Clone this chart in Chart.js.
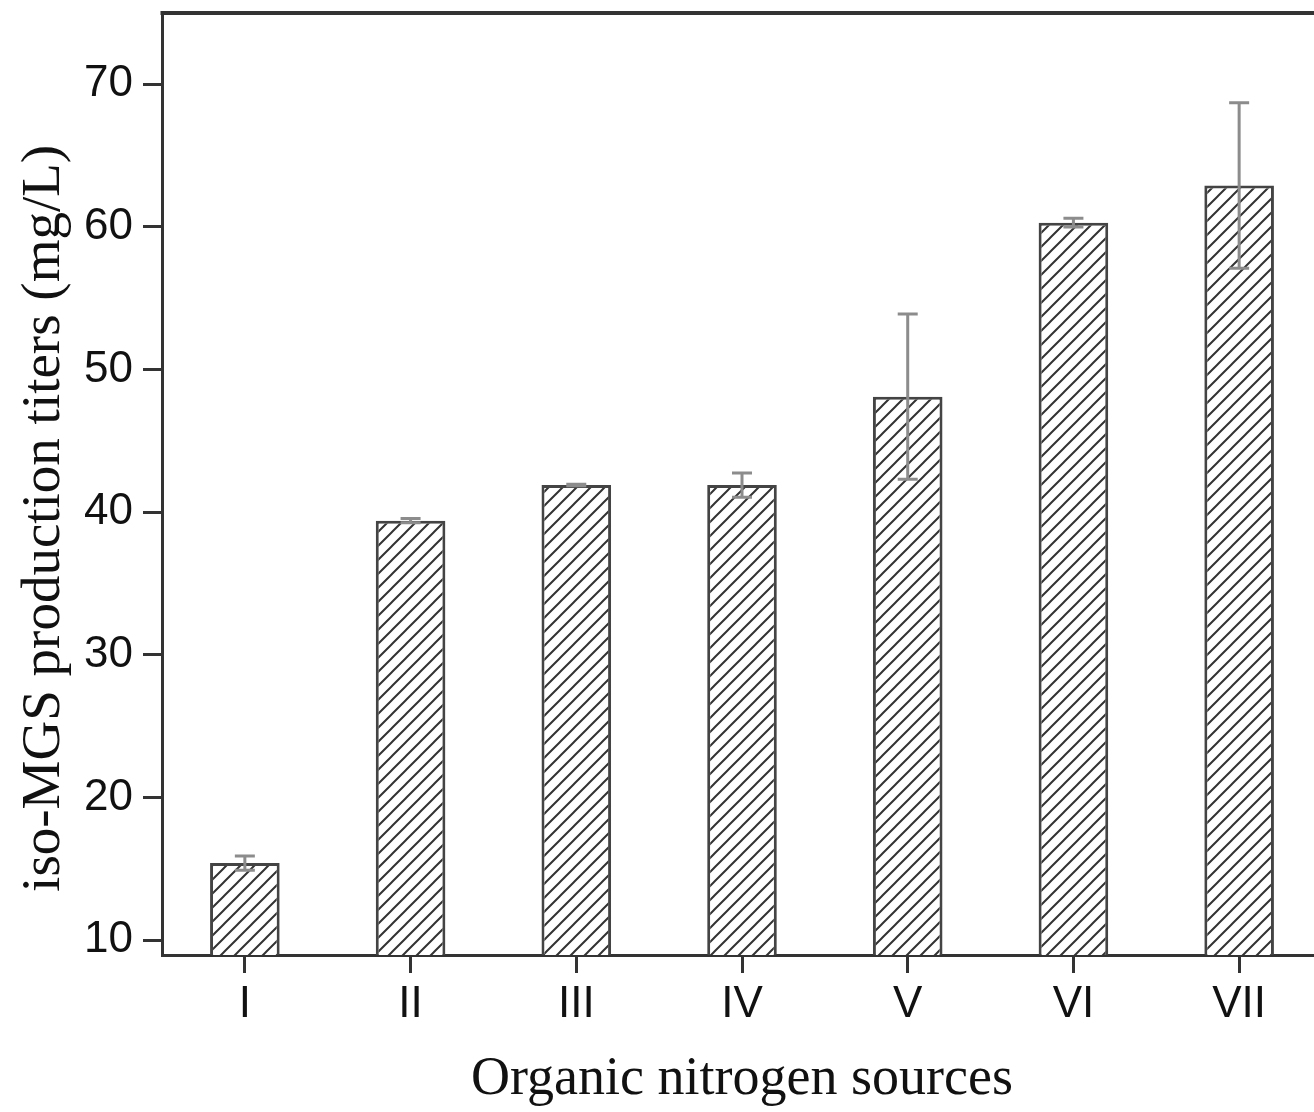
<!DOCTYPE html>
<html>
<head>
<meta charset="utf-8">
<script src="https://cdn.jsdelivr.net/npm/chart.js@4.4.1/dist/chart.umd.min.js"></script>
<style>
  html, body { margin: 0; padding: 0; background: #fff; overflow: hidden; }
  canvas { display: block; }
</style>
</head>
<body>
<canvas id="chart" width="1326" height="1112"></canvas>
<script>
// nitrogen source groups
const categories = ["I", "II", "III", "IV", "V", "VI", "VII"];
// mean titers (mg/L)
const titers = [15.4, 39.4, 41.9, 41.9, 48.1, 60.3, 62.9];
// standard deviation
const titerErrors = [0.5, 0.15, 0.05, 0.85, 5.8, 0.3, 5.8];
const yTicks = [10, 20, 30, 40, 50, 60, 70];

const sans = "'Liberation Sans', Arial, sans-serif";
const serif = "'Liberation Serif', 'Times New Roman', serif";

function makeHatch() {
  const size = 14;
  const c = document.createElement("canvas");
  c.width = size;
  c.height = size;
  const g = c.getContext("2d");
  g.fillStyle = "#fff";
  g.fillRect(0, 0, size, size);
  g.strokeStyle = "#333";
  g.lineWidth = 2;
  g.beginPath();
  g.moveTo(-2, size + 2);
  g.lineTo(size + 2, -2);
  g.moveTo(-2, 2);
  g.lineTo(2, -2);
  g.moveTo(size - 2, size + 2);
  g.lineTo(size + 2, size - 2);
  g.stroke();
  return g.createPattern(c, "repeat");
}

const errorBars = {
  id: "errorBars",
  afterDatasetsDraw(chart) {
    const { ctx, scales } = chart;
    const meta = chart.getDatasetMeta(0);
    ctx.save();
    ctx.strokeStyle = "#8c8c8c";
    ctx.lineWidth = 3;
    meta.data.forEach((bar, i) => {
      const v = titers[i];
      const e = titerErrors[i];
      const top = scales.y.getPixelForValue(v + e);
      const bot = scales.y.getPixelForValue(v - e);
      const cap = 10;
      ctx.beginPath();
      ctx.moveTo(bar.x, top);
      ctx.lineTo(bar.x, bot);
      ctx.moveTo(bar.x - cap, top);
      ctx.lineTo(bar.x + cap, top);
      ctx.moveTo(bar.x - cap, bot);
      ctx.lineTo(bar.x + cap, bot);
      ctx.stroke();
    });
    ctx.restore();
  },
};

const frame = {
  id: "frame",
  afterDraw(chart) {
    const { ctx, chartArea } = chart;
    ctx.save();
    ctx.strokeStyle = "#333";
    ctx.lineWidth = 4;
    ctx.beginPath();
    ctx.moveTo(chartArea.left - 1.5, chartArea.top);
    ctx.lineTo(chartArea.right, chartArea.top);
    ctx.lineTo(chartArea.right, chartArea.bottom);
    ctx.stroke();
    ctx.restore();
  },
};

new Chart(document.getElementById("chart").getContext("2d"), {
  type: "bar",
  data: {
    labels: categories,
    datasets: [
      {
        data: titers,
        backgroundColor: makeHatch(),
        borderColor: "#444",
        borderWidth: 3,
        barPercentage: 0.42,
        categoryPercentage: 1,
      },
    ],
  },
  options: {
    responsive: false,
    animation: false,
    layout: { padding: { top: 13, right: 4, bottom: 0, left: 0 } },
    plugins: {
      legend: { display: false },
      tooltip: { enabled: false },
    },
    scales: {
      x: {
        offset: true,
        border: { display: true, color: "#333", width: 3 },
        grid: {
          offset: false,
          drawOnChartArea: false,
          drawTicks: true,
          tickLength: 18,
          tickWidth: 3,
          tickColor: "#333",
        },
        ticks: {
          font: { family: sans, size: 44 },
          color: "#111",
          padding: 5,
          maxRotation: 0,
        },
        title: {
          display: true,
          text: "Organic nitrogen sources",
          font: { family: serif, size: 54 },
          color: "#111",
          padding: { top: 0, bottom: 0 },
        },
        afterFit(scale) {
          scale.height = 157;
          scale.paddingLeft = 0;
          scale.paddingRight = 0;
        },
      },
      y: {
        min: 8.95,
        max: 75,
        afterBuildTicks(scale) {
          scale.ticks = yTicks.map((v) => ({ value: v }));
        },
        border: { display: true, color: "#333", width: 3 },
        grid: {
          drawOnChartArea: false,
          drawTicks: true,
          tickLength: 19,
          tickWidth: 3,
          tickColor: "#333",
        },
        ticks: {
          font: { family: sans, size: 44 },
          color: "#111",
          padding: 10,
        },
        title: {
          display: true,
          text: "iso-MGS production titers (mg/L)\u00a0\u00a0\u00a0\u00a0\u00a0",
          font: { family: serif, size: 55 },
          color: "#111",
          padding: { top: 12, bottom: 0 },
        },
        afterFit(scale) {
          scale.width = 162;
          scale.paddingTop = 0;
          scale.paddingBottom = 0;
        },
      },
    },
  },
  plugins: [errorBars, frame],
});
</script>
</body>
</html>
